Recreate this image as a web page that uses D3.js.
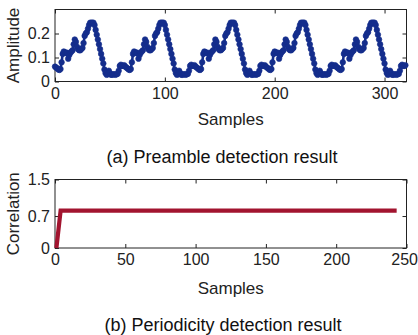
<!DOCTYPE html>
<html><head><meta charset="utf-8">
<script src="https://cdn.jsdelivr.net/npm/d3@7"></script>
<style>
html,body{margin:0;padding:0;background:#fff;}
text{font-family:"Liberation Sans",Arial,sans-serif;}
</style></head>
<body><div id="chart"></div>
<script>
// ---- Data ----
const amplitude = [
0.062,0.058,0.055,0.050,0.048,0.052,0.080,0.115,0.125,0.122,0.118,0.120,0.095,0.110,0.120,0.125,0.130,0.155,0.175,0.165,0.145,0.135,0.130,0.130,0.135,0.140,0.160,0.190,0.200,0.205,0.220,0.235,0.245,0.245,0.245,0.245,0.235,0.215,0.195,0.175,0.155,0.135,0.115,0.095,0.075,0.050,0.035,0.028,0.030,0.045,0.035,0.028,0.028,0.030,0.030,0.028,0.030,0.032,0.045,0.065,0.070,0.065,0.065,0.068,
0.062,0.058,0.055,0.050,0.048,0.052,0.080,0.115,0.125,0.122,0.118,0.120,0.095,0.110,0.120,0.125,0.130,0.155,0.175,0.165,0.145,0.135,0.130,0.130,0.135,0.140,0.160,0.190,0.200,0.205,0.220,0.235,0.245,0.245,0.245,0.245,0.235,0.215,0.195,0.175,0.155,0.135,0.115,0.095,0.075,0.050,0.035,0.028,0.030,0.045,0.035,0.028,0.028,0.030,0.030,0.028,0.030,0.032,0.045,0.065,0.070,0.065,0.065,0.068,
0.062,0.058,0.055,0.050,0.048,0.052,0.080,0.115,0.125,0.122,0.118,0.120,0.095,0.110,0.120,0.125,0.130,0.155,0.175,0.165,0.145,0.135,0.130,0.130,0.135,0.140,0.160,0.190,0.200,0.205,0.220,0.235,0.245,0.245,0.245,0.245,0.235,0.215,0.195,0.175,0.155,0.135,0.115,0.095,0.075,0.050,0.035,0.028,0.030,0.045,0.035,0.028,0.028,0.030,0.030,0.028,0.030,0.032,0.045,0.065,0.070,0.065,0.065,0.068,
0.062,0.058,0.055,0.050,0.048,0.052,0.080,0.115,0.125,0.122,0.118,0.120,0.095,0.110,0.120,0.125,0.130,0.155,0.175,0.165,0.145,0.135,0.130,0.130,0.135,0.140,0.160,0.190,0.200,0.205,0.220,0.235,0.245,0.245,0.245,0.245,0.235,0.215,0.195,0.175,0.155,0.135,0.115,0.095,0.075,0.050,0.035,0.028,0.030,0.045,0.035,0.028,0.028,0.030,0.030,0.028,0.030,0.032,0.045,0.065,0.070,0.065,0.065,0.068,
0.062,0.058,0.055,0.050,0.048,0.052,0.080,0.115,0.125,0.122,0.118,0.120,0.095,0.110,0.120,0.125,0.130,0.155,0.175,0.165,0.145,0.135,0.130,0.130,0.135,0.140,0.160,0.190,0.200,0.205,0.220,0.235,0.245,0.245,0.245,0.245,0.235,0.215,0.195,0.175,0.155,0.135,0.115,0.095,0.075,0.050,0.035,0.028,0.030,0.045,0.035,0.028,0.028,0.030,0.030,0.028,0.030,0.032,0.045,0.065,0.070,0.065,0.065,0.068
];
const ampXTicks = [0, 100, 200, 300];
const ampYTicks = [0, 0.1, 0.2];
const ampYLabels = ["0", "0.1", "0.2"];

const corrSamples = [1, 4, 243];
const corrValues = [0, 0.82, 0.82];
const corrXTicks = [0, 50, 100, 150, 200, 250];
const corrYTicks = [0, 0.7, 1.5];
const corrYLabels = ["0", "0.7", "1.5"];

const captions = ["(a) Preamble detection result", "(b) Periodicity detection result"];

// ---- Drawing ----
const W = 418, H = 335;
const axisColor = "#222";
const svg = d3.select("#chart").append("svg").attr("width", W).attr("height", H);

function panel(cfg) {
  const x = d3.scaleLinear().domain(cfg.xDomain).range([cfg.left, cfg.right]);
  const y = d3.scaleLinear().domain(cfg.yDomain).range([cfg.bottom, cfg.top]);
  const g = svg.append("g");

  const ax = [
    d3.axisBottom(x).tickValues(cfg.xTicks).tickSize(-4).tickSizeOuter(0).tickPadding(cfg.xPad).tickFormat(d3.format("d")),
    d3.axisTop(x).tickValues(cfg.xTicks).tickSize(-4).tickSizeOuter(0).tickFormat(""),
    d3.axisLeft(y).tickValues(cfg.yTicks).tickSize(-4).tickSizeOuter(0).tickPadding(5).tickFormat((d, i) => cfg.yLabels[i]),
    d3.axisRight(y).tickValues(cfg.yTicks).tickSize(-4).tickSizeOuter(0).tickFormat("")
  ];
  const pos = [[0, cfg.bottom], [0, cfg.top], [cfg.left, 0], [cfg.right, 0]];
  ax.forEach((a, i) => {
    const ag = g.append("g").attr("transform", `translate(${pos[i][0]},${pos[i][1]})`).call(a);
    ag.select(".domain").remove();
    ag.selectAll("line").attr("stroke", axisColor);
    ag.selectAll("text").attr("fill", axisColor).style("font-size", "16px")
      .style("font-family", '"Liberation Sans", Arial, sans-serif');
    if (i === 0) {
      // keep the right-most label inside the page edge
      ag.selectAll("text").filter(d => x(d) + 14 > W).attr("text-anchor", "end").attr("x", W - x(cfg.xDomain[1]) - 0.5);
    }
  });
  g.append("rect").attr("x", cfg.left).attr("y", cfg.top)
    .attr("width", cfg.right - cfg.left).attr("height", cfg.bottom - cfg.top)
    .attr("fill", "none").attr("stroke", axisColor).attr("stroke-width", 1);

  g.append("text").attr("x", (cfg.left + cfg.right) / 2).attr("y", cfg.xLabelY)
    .attr("text-anchor", "middle").attr("fill", axisColor).style("font-size", "17px").text("Samples");
  g.append("text").attr("transform", `translate(${cfg.yLabelX},${(cfg.top + cfg.bottom) / 2}) rotate(-90)`)
    .attr("text-anchor", "middle").attr("fill", axisColor).style("font-size", "17px").text(cfg.yLabel);
  g.append("text").attr("x", cfg.capX).attr("y", cfg.capY)
    .attr("text-anchor", "middle").attr("fill", "#111").style("font-size", "18px").text(cfg.caption);
  return {g, x, y};
}

// Panel (a)
const pa = panel({
  xDomain: [0, 320], yDomain: [0, 0.3], left: 55, right: 406.5, top: 9.5, bottom: 81.5,
  xTicks: ampXTicks, yTicks: ampYTicks, yLabels: ampYLabels, xPad: 6,
  xLabelY: 125, yLabelX: 19, yLabel: "Amplitude", caption: captions[0], capX: 222, capY: 163
});
const blue = "#142d8c";
pa.g.append("path").datum(amplitude)
  .attr("d", d3.line().x((d, i) => pa.x(i)).y(d => pa.y(d)))
  .attr("fill", "none").attr("stroke", blue).attr("stroke-width", 2.6).attr("stroke-linejoin", "round");
pa.g.append("g").selectAll("circle").data(amplitude).join("circle")
  .attr("cx", (d, i) => pa.x(i)).attr("cy", d => pa.y(d)).attr("r", 2.8)
  .attr("fill", blue).attr("stroke", blue).attr("stroke-width", 0.6);

// Panel (b)
const pb = panel({
  xDomain: [0, 250], yDomain: [0, 1.5], left: 55, right: 406.5, top: 179.5, bottom: 248,
  xTicks: corrXTicks, yTicks: corrYTicks, yLabels: corrYLabels, xPad: 6,
  xLabelY: 294, yLabelX: 19, yLabel: "Correlation", caption: captions[1], capX: 223, capY: 331
});
pb.g.append("path").datum(corrSamples.map((s, i) => [s, corrValues[i]]))
  .attr("d", d3.line().x(d => pb.x(d[0])).y(d => pb.y(d[1])))
  .attr("fill", "none").attr("stroke", "#A2142F").attr("stroke-width", 4.2);
</script></body></html>
